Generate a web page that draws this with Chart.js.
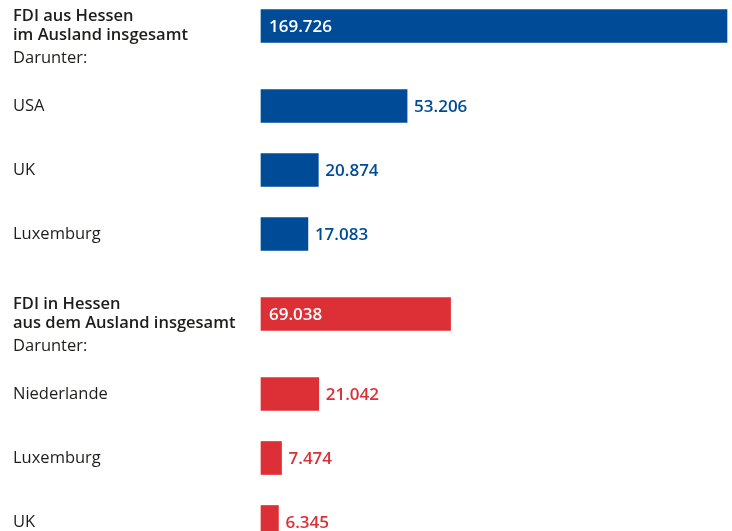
<!DOCTYPE html>
<html>
<head>
<meta charset="utf-8">
<script src="https://cdn.jsdelivr.net/npm/chart.js@4"></script>
<style>
  html, body { margin: 0; padding: 0; background: #ffffff; }
  #wrap { width: 732px; height: 531px; position: relative; }
</style>
</head>
<body>
<div id="wrap"><canvas id="c"></canvas></div>
<script>
// ---- data ----
const outTotalLabel = ['FDI aus Hessen', 'im Ausland insgesamt'];
const outCountries = ['USA', 'UK', 'Luxemburg'];
const outValues = [169726, 53206, 20874, 17083];

const inTotalLabel = ['FDI in Hessen', 'aus dem Ausland insgesamt'];
const inCountries = ['Niederlande', 'Luxemburg', 'UK'];
const inValues = [69038, 21042, 7474, 6345];

const subHeading = 'Darunter:';

const blue = '#004B98';
const red = '#DC2F36';
const textColor = '#1d1d1b';
const fontFamily = '"Open Sans", Lato, sans-serif';

// ---- build category rows (blank rows act as spacing) ----
const rows = [];
const rowValues = [];
const rowColors = [];
const rowIsTotal = [];
function pushRow(label, value, color, isTotal) {
  rows.push(label); rowValues.push(value); rowColors.push(color); rowIsTotal.push(isTotal);
}
function pushSpacer(n) { for (let i = 0; i < n; i++) pushRow('', null, 'transparent', false); }
function buildGroup(totalLabel, countries, values, color, trailing) {
  pushRow(totalLabel, values[0], color, true);
  pushSpacer(1);
  pushRow(subHeading, null, 'transparent', false);
  pushSpacer(2);
  countries.forEach((c, i) => {
    pushRow(c, values[i + 1], color, false);
    if (i < countries.length - 1) pushSpacer(3);
  });
  pushSpacer(trailing);
}
buildGroup(outTotalLabel, outCountries, outValues, blue, 4);
buildGroup(inTotalLabel, inCountries, inValues, red, 0);

function fmt(v) {
  return String(v).replace(/\B(?=(\d{3})+(?!\d))/g, '.');
}

const valueLabels = {
  id: 'valueLabels',
  afterDatasetsDraw(chart) {
    const ctx = chart.ctx;
    const meta = chart.getDatasetMeta(0);
    ctx.save();
    ctx.font = '600 17px ' + fontFamily;
    ctx.textBaseline = 'middle';
    ctx.textAlign = 'left';
    meta.data.forEach((bar, i) => {
      const v = rowValues[i];
      if (v === null) return;
      if (rowIsTotal[i]) {
        ctx.fillStyle = '#ffffff';
        ctx.fillText(fmt(v), bar.base + 8, bar.y + 1);
      } else {
        ctx.fillStyle = rowColors[i];
        ctx.fillText(fmt(v), bar.x + 7, bar.y + 1);
      }
    });
    ctx.restore();
  }
};

new Chart(document.getElementById('c'), {
  type: 'bar',
  data: {
    labels: rows,
    datasets: [{
      data: rowValues,
      backgroundColor: rowColors,
      barThickness: 33,
      borderWidth: 0,
      clip: false
    }]
  },
  options: {
    indexAxis: 'y',
    responsive: true,
    maintainAspectRatio: false,
    animation: false,
    layout: { padding: { left: 13, right: 5, top: 18, bottom: 1 } },
    plugins: { legend: { display: false }, tooltip: { enabled: false } },
    scales: {
      x: {
        display: false,
        min: 0,
        max: Math.max(...outValues, ...inValues)
      },
      y: {
        grid: { display: false },
        border: { display: false },
        afterFit(scale) {
          scale.width = 248;
          scale.paddingTop = 0;
          scale.paddingBottom = 0;
        },
        ticks: {
          autoSkip: false,
          crossAlign: 'far',
          color: textColor,
          padding: 0,
          font: (c) => {
            const lbl = rows[c.index];
            return {
              family: fontFamily,
              size: 16.5,
              weight: Array.isArray(lbl) ? '600' : 'normal',
              lineHeight: 1.14
            };
          }
        }
      }
    }
  },
  plugins: [valueLabels]
});
</script>
</body>
</html>
